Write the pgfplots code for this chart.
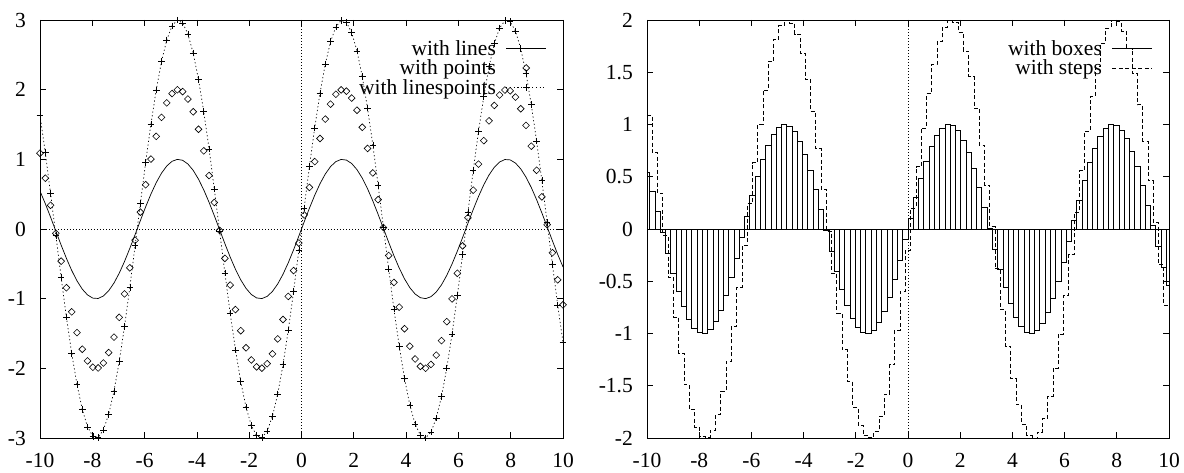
\documentclass[border=0pt]{standalone}
\usepackage{fontspec}
\setmainfont{Liberation Serif}
\usepackage{pgfplots}
\pgfplotsset{compat=1.18}
\usepackage{pgfplotstable}

\pgfplotstableread{
x s1 s2 s3
-10.00000 0.54402 1.08804 1.63206
-9.79798 0.36460 0.72920 1.09380
-9.59596 0.17035 0.34070 0.51105
-9.39394 -0.03083 -0.06166 -0.09249
-9.19192 -0.23076 -0.46152 -0.69228
-8.98990 -0.42130 -0.84260 -1.26390
-8.78788 -0.59470 -1.18940 -1.78410
-8.58586 -0.74392 -1.48784 -2.23176
-8.38384 -0.86288 -1.72576 -2.58864
-8.18182 -0.94674 -1.89348 -2.84022
-7.97980 -0.99210 -1.98420 -2.97630
-7.77778 -0.99710 -1.99420 -2.99130
-7.57576 -0.96155 -1.92310 -2.88465
-7.37374 -0.88688 -1.77376 -2.66064
-7.17172 -0.77615 -1.55230 -2.32845
-6.96970 -0.63385 -1.26770 -1.90155
-6.76768 -0.46576 -0.93152 -1.39728
-6.56566 -0.27873 -0.55746 -0.83619
-6.36364 -0.08036 -0.16072 -0.24108
-6.16162 0.12127 0.24254 0.36381
-5.95960 0.31797 0.63594 0.95391
-5.75758 0.50174 1.00348 1.50522
-5.55556 0.66510 1.33020 1.99530
-5.35354 0.80141 1.60282 2.40423
-5.15152 0.90512 1.81024 2.71536
-4.94949 0.97202 1.94404 2.91606
-4.74747 0.99938 1.99876 2.99814
-4.54545 0.98610 1.97220 2.95830
-4.34343 0.93271 1.86542 2.79813
-4.14141 0.84137 1.68274 2.52411
-3.93939 0.71582 1.43164 2.14746
-3.73737 0.56115 1.12230 1.68345
-3.53535 0.38366 0.76732 1.15098
-3.33333 0.19057 0.38114 0.57171
-3.13131 -0.01028 -0.02056 -0.03084
-2.92929 -0.21071 -0.42142 -0.63213
-2.72727 -0.40257 -0.80514 -1.20771
-2.52525 -0.57805 -1.15610 -1.73415
-2.32323 -0.73003 -1.46006 -2.19009
-2.12121 -0.85231 -1.70462 -2.55693
-1.91919 -0.93992 -1.87984 -2.81976
-1.71717 -0.98931 -1.97862 -2.96793
-1.51515 -0.99845 -1.99690 -2.99535
-1.31313 -0.96699 -1.93398 -2.90097
-1.11111 -0.89619 -1.79238 -2.68857
-0.90909 -0.78894 -1.57788 -2.36682
-0.70707 -0.64961 -1.29922 -1.94883
-0.50505 -0.48385 -0.96770 -1.45155
-0.30303 -0.29841 -0.59682 -0.89523
-0.10101 -0.10084 -0.20168 -0.30252
0.10101 0.10084 0.20168 0.30252
0.30303 0.29841 0.59682 0.89523
0.50505 0.48385 0.96770 1.45155
0.70707 0.64961 1.29922 1.94883
0.90909 0.78894 1.57788 2.36682
1.11111 0.89619 1.79238 2.68857
1.31313 0.96699 1.93398 2.90097
1.51515 0.99845 1.99690 2.99535
1.71717 0.98931 1.97862 2.96793
1.91919 0.93992 1.87984 2.81976
2.12121 0.85231 1.70462 2.55693
2.32323 0.73003 1.46006 2.19009
2.52525 0.57805 1.15610 1.73415
2.72727 0.40257 0.80514 1.20771
2.92929 0.21071 0.42142 0.63213
3.13131 0.01028 0.02056 0.03084
3.33333 -0.19057 -0.38114 -0.57171
3.53535 -0.38366 -0.76732 -1.15098
3.73737 -0.56115 -1.12230 -1.68345
3.93939 -0.71582 -1.43164 -2.14746
4.14141 -0.84137 -1.68274 -2.52411
4.34343 -0.93271 -1.86542 -2.79813
4.54545 -0.98610 -1.97220 -2.95830
4.74747 -0.99938 -1.99876 -2.99814
4.94949 -0.97202 -1.94404 -2.91606
5.15152 -0.90512 -1.81024 -2.71536
5.35354 -0.80141 -1.60282 -2.40423
5.55556 -0.66510 -1.33020 -1.99530
5.75758 -0.50174 -1.00348 -1.50522
5.95960 -0.31797 -0.63594 -0.95391
6.16162 -0.12127 -0.24254 -0.36381
6.36364 0.08036 0.16072 0.24108
6.56566 0.27873 0.55746 0.83619
6.76768 0.46576 0.93152 1.39728
6.96970 0.63385 1.26770 1.90155
7.17172 0.77615 1.55230 2.32845
7.37374 0.88688 1.77376 2.66064
7.57576 0.96155 1.92310 2.88465
7.77778 0.99710 1.99420 2.99130
7.97980 0.99210 1.98420 2.97630
8.18182 0.94674 1.89348 2.84022
8.38384 0.86288 1.72576 2.58864
8.58586 0.74392 1.48784 2.23176
8.78788 0.59470 1.18940 1.78410
8.98990 0.42130 0.84260 1.26390
9.19192 0.23076 0.46152 0.69228
9.39394 0.03083 0.06166 0.09249
9.59596 -0.17035 -0.34070 -0.51105
9.79798 -0.36460 -0.72920 -1.09380
10.00000 -0.54402 -1.08804 -1.63206
}\sinedata

\newcommand{\gpfont}{\fontsize{21.5}{25}\selectfont}

\pgfplotsset{gp/.style={
  scale only axis, height=418pt,
  xmin=-10, xmax=10,
  axis line style={line width=0.8pt},
  tick align=inside, major tick length=6pt,
  tick style={line width=0.7pt, black},
  xtick={-10,-8,...,10},
  xticklabels={-10,-8,-6,-4,-2,0,2,4,6,8,10},
  xticklabel style={inner sep=0pt, yshift=-15pt, font=\gpfont},
  yticklabel style={inner sep=0pt, xshift=-14pt, font=\gpfont},
  legend cell align=right,
  legend plot pos=right,
  legend style={draw=none, fill=none, anchor=north east,
    at={(rel axis cs:0.969,0.955)}, font=\gpfont, inner sep=0pt,
    column sep=8pt, row sep=0pt,
    nodes={inner xsep=2pt, inner ysep=1.6pt, text depth=0.12em}},
  legend image code/.code={\draw[mark repeat=2,mark phase=2,#1]
    plot coordinates {(0pt,0pt) (20pt,0pt) (40pt,0pt)};},
}}

\begin{document}
\begin{tikzpicture}
\useasboundingbox (0,0) rectangle (1184pt,473pt);
\begin{axis}[gp, width=523pt, at={(40pt,35pt)}, anchor=south west,
  ymin=-3, ymax=3, ytick={-3,-2,...,3},
  yticklabels={-3,-2,-1,0,1,2,3}]
\addplot[black, line width=0.6pt, dash pattern=on 1pt off 2pt, forget plot] coordinates {(-10,0) (10,0)};
\addplot[black, line width=0.6pt, dash pattern=on 1pt off 2pt, forget plot] coordinates {(0,-3) (0,3)};
\addplot[black, line width=0.7pt, no marks] table[x=x, y=s1] {\sinedata};
\addlegendentry{with lines}
\addplot[black, only marks, mark=square, mark size=2.4pt, mark options={rotate=45, line width=0.6pt}] table[x=x, y=s2] {\sinedata};
\addlegendentry{with points}
\addplot[black, line width=0.7pt, dash pattern=on 1.2pt off 2.5pt, mark=+, mark size=3.3pt, mark options={solid, line width=0.6pt}] table[x=x, y=s3] {\sinedata};
\addlegendentry{with linespoints}
\end{axis}
\begin{axis}[gp, width=522pt, at={(647pt,35pt)}, anchor=south west,
  ymin=-2, ymax=2, ytick={-2,-1.5,...,2},
  yticklabels={-2,-1.5,-1,-0.5,0,0.5,1,1.5,2}]
\addplot[black, line width=0.6pt, dash pattern=on 1pt off 2pt, forget plot] coordinates {(0,-2) (0,2)};
\addplot[ybar, bar width=0.20202, draw=black, fill=none, line width=0.7pt,
  legend image code/.code={\draw[black, line width=0.7pt] (0pt,0pt) -- (40pt,0pt);}]
  table[x=x, y=s1] {\sinedata};
\addlegendentry{with boxes}
\addplot[const plot, black, line width=0.7pt, no marks, dash pattern=on 4pt off 2.5pt] table[x=x, y=s2] {\sinedata};
\addlegendentry{with steps}
\end{axis}
\end{tikzpicture}
\end{document}
